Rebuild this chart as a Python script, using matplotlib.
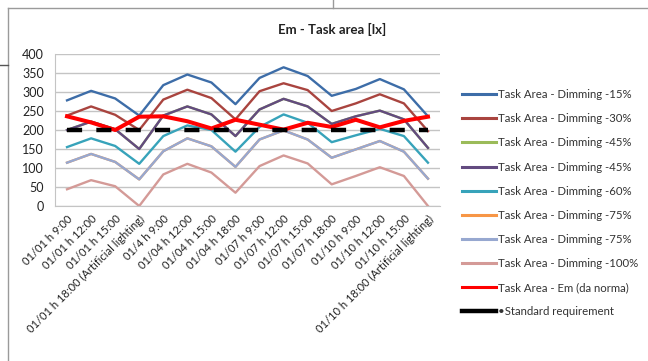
import matplotlib
matplotlib.use("Agg")
import matplotlib.pyplot as plt
from matplotlib.lines import Line2D

plt.rcParams['font.family'] = ['Lato', 'DejaVu Sans']

categories = [
    "01/01 h 9:00", "01/01 h 12:00", "01/01 h 15:00",
    "01/01 h 18:00 (Artificial lighting)",
    "01/4 h 9:00", "01/04 h 12:00", "01/04 h 15:00", "01/04 h 18:00",
    "01/07 h 9:00", "01/07 h 12:00", "01/07 h 15:00", "01/07 h 18:00",
    "01/10 h 9:00", "01/10 h 12:00", "01/10 h 15:00",
    "01/10 h 18:00 (Artificial lighting)",
]

dim_15 = [278, 303, 283, 238, 318, 346, 325, 268, 337, 365, 342, 290, 308, 334, 307, 236]
dim_30 = [238, 262, 240, 200, 280, 306, 284, 228, 302, 323, 305, 250, 270, 294, 270, 197]
dim_45a = [200, 222, 202, 150, 238, 262, 241, 184, 254, 282, 262, 216, 236, 251, 228, 153]
dim_45b = [200, 222, 202, 150, 238, 262, 241, 184, 254, 282, 262, 216, 236, 251, 228, 153]
dim_60 = [155, 178, 158, 111, 184, 212, 200, 143, 208, 241, 219, 168, 186, 203, 184, 114]
dim_75a = [114, 137, 116, 70, 144, 178, 157, 103, 175, 199, 175, 127, 149, 171, 143, 72]
dim_75b = [114, 137, 116, 70, 144, 178, 157, 103, 175, 199, 175, 127, 149, 171, 143, 72]
dim_100 = [44, 68, 52, 0, 83, 111, 88, 35, 105, 133, 112, 57, 79, 102, 79, 0]
em_norm = [236, 220, 200, 235, 236, 223, 204, 227, 214, 201, 219, 208, 227, 207, 224, 235]
standard = [200] * 16

series = [
    ("Task Area - Dimming -15%", dim_15, "#3D6DA8", 1.7),
    ("Task Area - Dimming -30%", dim_30, "#A9443F", 1.7),
    ("Task Area - Dimming -45%", dim_45a, "#9BBB59", 1.7),
    ("Task Area - Dimming -45%", dim_45b, "#634B80", 1.7),
    ("Task Area - Dimming -60%", dim_60, "#37A3BA", 1.7),
    ("Task Area - Dimming -75%", dim_75a, "#F79646", 1.7),
    ("Task Area - Dimming -75%", dim_75b, "#97A8D0", 1.7),
    ("Task Area - Dimming -100%", dim_100, "#D49A97", 1.7),
    ("Task Area - Em (da norma)", em_norm, "#FF0000", 2.9),
]

fig = plt.figure(figsize=(6.48, 3.61), dpi=100)
fig.patch.set_facecolor("white")

# document frame around the chart object
frame_kw = dict(color="#9a9a9a", lw=1.0, transform=fig.transFigure)
fig.add_artist(Line2D([8 / 648, 8 / 648], [0, 1 - 8 / 361], **frame_kw))
fig.add_artist(Line2D([8 / 648, 1], [1 - 8 / 361, 1 - 8 / 361], **frame_kw))
fig.add_artist(Line2D([333 / 648, 333 / 648], [1 - 8 / 361, 1], **frame_kw))
fig.add_artist(Line2D([0, 8 / 648], [1 - 65 / 361, 1 - 65 / 361],
                      color="#555555", lw=1.0, transform=fig.transFigure))

ax = fig.add_axes([55 / 648, 1 - 206 / 361, 385 / 648, 152 / 361])
x = list(range(len(categories)))

handles = []
for label, vals, color, lw in series:
    (ln,) = ax.plot(x, vals, color=color, lw=lw, solid_joinstyle="round")
    handles.append((ln, label))

ax.plot(x, standard, color="black", lw=3.2, dashes=(3.4, 3.2))

ax.set_xlim(-0.5, len(categories) - 0.5)
ax.set_ylim(0, 400)
ax.set_yticks(range(0, 401, 50))
ax.yaxis.grid(True, color="#c4c4c4", lw=1.0)
ax.set_axisbelow(True)
for side in ("top", "right"):
    ax.spines[side].set_visible(False)
for side in ("left", "bottom"):
    ax.spines[side].set_color("#c4c4c4")
ax.tick_params(axis="both", length=0, colors="#222222")
ax.tick_params(axis="y", labelsize=9, pad=8)

ax.set_xticks(x)
ax.set_xticklabels(categories, rotation=45, ha="right", va="top",
                   rotation_mode="anchor", fontsize=8)
ax.tick_params(axis="x", pad=5)

fig.text(332 / 648, 1 - 29 / 361, "Em - Task area [lx]", ha="center",
         va="center", fontsize=9.5, fontweight="bold", color="#222222")

leg_handles = [Line2D([], [], color=h.get_color(), lw=2.2) for h, _ in handles]
leg_labels = [l for _, l in handles]
leg_handles.append(Line2D([], [], color="black", lw=3.2))
leg_labels.append("•Standard requirement")
fig.legend(leg_handles, leg_labels, loc="upper left",
           bbox_to_anchor=(452 / 648, 1 - 79 / 361), frameon=False,
           fontsize=8.2, labelspacing=1.15, handlelength=3.0,
           handletextpad=0.15, labelcolor="#333333")

fig.savefig("out.png", dpi=100, facecolor="white")
